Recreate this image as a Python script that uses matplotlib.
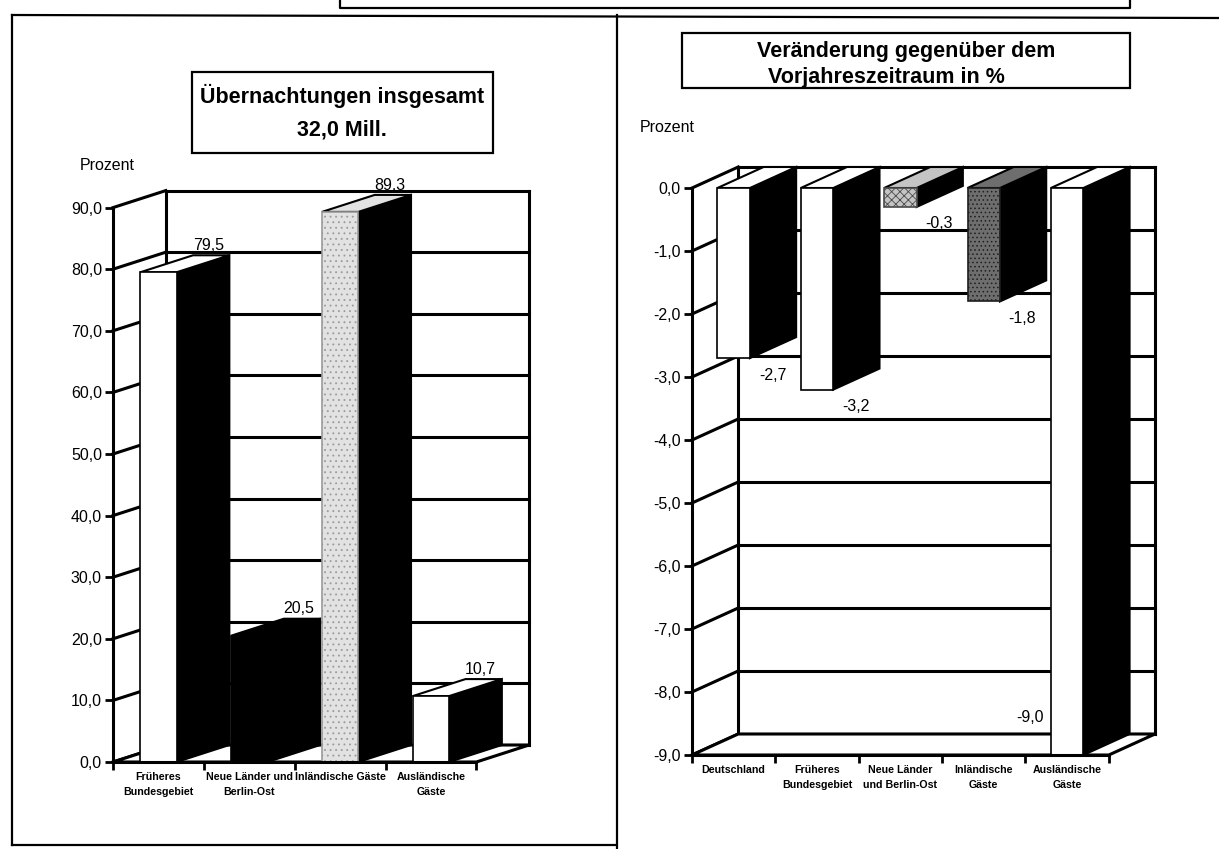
import matplotlib.pyplot as plt
from matplotlib.patches import Polygon, Rectangle
from matplotlib.lines import Line2D

plt.rcParams['font.family'] = ['Liberation Sans', 'DejaVu Sans']
plt.rcParams['hatch.linewidth'] = 0.6

# left chart: share of overnight stays (Prozent)
left_cats = ['Früheres\nBundesgebiet', 'Neue Länder und\nBerlin-Ost',
             'Inländische Gäste', 'Ausländische\nGäste']
left_vals = [79.5, 20.5, 89.3, 10.7]
left_ticks = [0, 10, 20, 30, 40, 50, 60, 70, 80, 90]

# right chart: change against previous year (%)
right_cats = ['Deutschland', 'Früheres\nBundesgebiet', 'Neue Länder\nund Berlin-Ost',
              'Inländische\nGäste', 'Ausländische\nGäste']
right_vals = [-2.7, -3.2, -0.3, -1.8, -9.0]
right_ticks = [-9, -8, -7, -6, -5, -4, -3, -2, -1, 0]

W, H = 1219, 849
fig = plt.figure(figsize=(W / 100, H / 100), dpi=100)


def px_axes(x0, y0, x1, y1):
    return fig.add_axes([x0 / W, 1 - y1 / H, (x1 - x0) / W, (y1 - y0) / H])


def fmt(v):
    return f'{v:.1f}'.replace('.', ',')


def fig_line(xs, ys, lw=1.6):
    fig.add_artist(Line2D([x / W for x in xs], [1 - y / H for y in ys],
                          color='black', lw=lw, transform=fig.transFigure))


def draw_3d(ax, vals, cats, ticks, fronts, tops, hatches, hatch_ec, dx, dy, bw):
    n = len(vals)
    lo, hi = ticks[0], ticks[-1]
    lw = 2.2
    kw = dict(color='black', lw=lw, solid_capstyle='projecting', clip_on=False)
    # walls and grid
    for t in ticks:
        ax.plot([0, dx], [t, t + dy], zorder=1, **kw)
        ax.plot([dx, n + dx], [t + dy, t + dy], zorder=1, **kw)
    ax.plot([dx, dx], [lo + dy, hi + dy], zorder=1, **kw)
    ax.plot([n + dx, n + dx], [lo + dy, hi + dy], zorder=1, **kw)
    ax.add_patch(Polygon([(0, lo), (n, lo), (n + dx, lo + dy), (dx, lo + dy)],
                         closed=True, fc='white', ec='black', lw=lw, zorder=2, clip_on=False))
    # bars: black side face, top face, then the front
    for i, v in enumerate(vals):
        xl = i + 0.5 - bw / 2
        xr = xl + bw
        top, bot = max(v, 0), min(v, 0)
        ax.add_patch(Polygon([(xr, bot), (xr, top), (xr + dx, top + dy), (xr + dx, bot + dy)],
                             closed=True, fc='black', ec='black', lw=1.5, zorder=3, clip_on=False))
        ax.add_patch(Polygon([(xl, top), (xr, top), (xr + dx, top + dy), (xl + dx, top + dy)],
                             closed=True, fc=tops[i], ec='black', lw=1.5, zorder=3, clip_on=False))
        ax.bar(i + 0.5, v, width=bw, color=fronts[i], hatch=hatches[i],
               edgecolor=hatch_ec[i], lw=1.2, zorder=4, clip_on=False)
    ax.set_xlim(0, n + dx + 0.12)
    ax.set_xticks([i + 0.5 for i in range(n)], cats)
    ax.set_xticks(range(n + 1), minor=True)
    ax.tick_params(axis='x', which='major', length=0, pad=7, labelsize=7.7)
    ax.tick_params(axis='x', which='minor', length=6, width=2, direction='out')
    for lab in ax.get_xticklabels():
        lab.set_fontweight('bold')
        lab.set_linespacing(1.7)
    ax.set_yticks(ticks, [fmt(t) for t in ticks])
    ax.tick_params(axis='y', length=6, width=2, direction='out', labelsize=11.5, pad=2)
    for s in ['top', 'right']:
        ax.spines[s].set_visible(False)
    ax.spines['left'].set_bounds(lo, hi)
    ax.spines['bottom'].set_bounds(0, n)
    for s in ['left', 'bottom']:
        ax.spines[s].set_linewidth(2.2)
        ax.spines[s].set_zorder(5)
    ax.patch.set_visible(False)


# ---- left chart
dxL, dyL = 53 / 91.25, 17 / 6.16
axL = px_axes(113, 180, 540, 762)
axL.set_ylim(0, (762 - 180) / 6.16)
bwL = 0.4
draw_3d(axL, left_vals, left_cats, left_ticks,
        fronts=['white', 'black', '#e2e2e2', 'white'],
        tops=['white', 'black', '#e2e2e2', 'white'],
        hatches=[None, None, '...', None],
        hatch_ec=['black', 'black', '#9a9a9a', 'black'],
        dx=dxL, dy=dyL, bw=bwL)
for i, v in enumerate(left_vals):
    axL.text(i + 0.5 + bwL / 2 + dxL * 0.6, v + dyL + 1.6, fmt(v),
             ha='center', va='center', fontsize=11.5, zorder=6)

# ---- right chart
dxR, dyR = 46 / 83, 21 / 63
axR = px_axes(692, 160, 1165, 755)
axR.set_ylim(-9, (188 - 160) / 63)
bwR = 0.39
draw_3d(axR, right_vals, right_cats, right_ticks,
        fronts=['white', 'white', '#c4c4c4', '#6e6e6e', 'white'],
        tops=['white', 'white', '#c4c4c4', '#6e6e6e', 'white'],
        hatches=[None, None, 'xxxx', '....', None],
        hatch_ec=['black', 'black', '#4a4a4a', '#1e1e1e', 'black'],
        dx=dxR, dy=dyR, bw=bwR)
for i, v in enumerate(right_vals):
    if v - 0.3 < right_ticks[0] + 0.5:
        # bar reaches the floor: label sits left of it
        axR.text(i + 0.5 - bwR / 2 - 0.25, v + 0.6, fmt(v),
                 ha='center', va='center', fontsize=11.5, zorder=6)
    else:
        axR.text(i + 0.5 + bwR / 2 + 0.27, v - 0.27, fmt(v),
                 ha='center', va='center', fontsize=11.5, zorder=6)

# ---- y-axis captions
fig.text(80 / W, 1 - 165 / H, 'Prozent', fontsize=11.5, ha='left', va='center')
fig.text(640 / W, 1 - 127 / H, 'Prozent', fontsize=11.5, ha='left', va='center')

# ---- title boxes
fig.add_artist(Rectangle((192 / W, 1 - 153 / H), 301 / W, 81 / H, fill=False,
                         ec='black', lw=1.6, transform=fig.transFigure))
fig.text(342 / W, 1 - 96 / H, 'Übernachtungen insgesamt', fontsize=15.5,
         fontweight='bold', ha='center', va='center')
fig.text(342 / W, 1 - 130 / H, '32,0 Mill.', fontsize=15.5,
         fontweight='bold', ha='center', va='center')

fig.add_artist(Rectangle((682 / W, 1 - 88 / H), 448 / W, 55 / H, fc='none',
                         ec='black', lw=1.6, transform=fig.transFigure, zorder=5))
fig.text(906 / W, 1 - 51 / H, 'Veränderung gegenüber dem', fontsize=15.5,
         fontweight='bold', ha='center', va='center')
fig.text(886 / W, 1 - 77 / H, 'Vorjahreszeitraum in %', fontsize=15.5,
         fontweight='bold', ha='center', va='center')

# ---- panel frames (scanned page)
fig_line([340, 340, 1130, 1130], [0, 8, 8, 0])
fig_line([12, 1219], [15, 18])
fig_line([12, 12], [15, 845])
fig_line([12, 615], [845, 845])
fig_line([617, 617], [15, 849])

fig.savefig('out.png', dpi=100)
